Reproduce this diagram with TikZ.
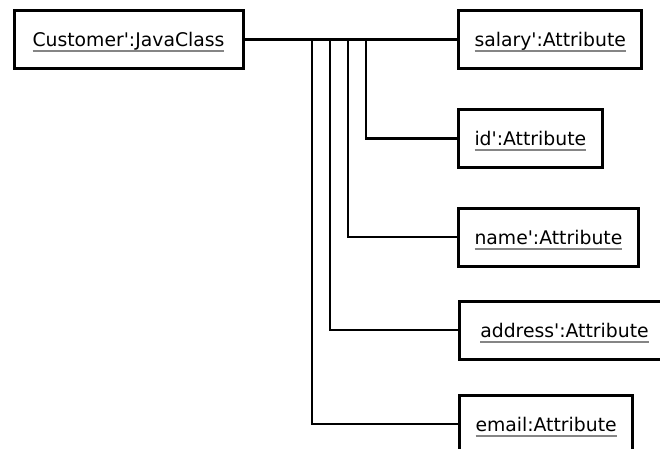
\documentclass[tikz,border=0pt]{standalone}
\usepackage{fontspec}
\setmainfont{DejaVu Sans}[Ligatures=TeXOff]
\usetikzlibrary{positioning}
\definecolor{ulgray}{HTML}{858585}
% underlined object name, UML instance style
\newcommand{\objname}[1]{\setbox0\hbox{#1}\rlap{\smash{\color{ulgray}\rule[-5.8pt]{\wd0}{2pt}}}\box0}
\tikzset{
  objbox/.style={draw, line width=3pt, rectangle, inner xsep=16pt, inner ysep=0pt,
    minimum height=58pt, text height=14pt, text depth=0pt,
    font=\fontsize{18.8pt}{21pt}\selectfont},
  link/.style={line width=2.8pt}
}
\begin{document}
\begin{tikzpicture}[x=1pt,y=-1pt]
  \useasboundingbox (0,0) rectangle (660,448);
  \fill[white] (0,0) rectangle (660,448);

  \node[objbox, minimum width=229pt] (customer) at (128.5,39.5) {\objname{Customer':JavaClass}};
  \node[objbox, anchor=west] (salary)  at (457,39.5) {\objname{salary':Attribute}};
  \node[objbox, anchor=west] (id)      at (457,138.5) {\objname{id':Attribute}};
  \node[objbox, anchor=west] (name)    at (457,237) {\objname{name':Attribute}};
  \node[objbox, anchor=west, minimum width=210pt] (address) at (458,330) {\objname{address':Attribute}};
  \node[objbox, anchor=west] (email)   at (458,424) {\objname{email:Attribute}};

  % branch points on the main line
  \coordinate (bId)      at (366,40.5);
  \coordinate (bName)    at (348,40.5);
  \coordinate (bAddress) at (330,40.5);
  \coordinate (bEmail)   at (312,40.5);

  \draw[link] (customer.east) -- (salary.west);
  \draw[link] (bId) |- (id.west);
  \draw[link] (bName) |- (name.west);
  \draw[link] (bAddress) |- (address.west);
  \draw[link] (bEmail) |- (email.west);
\end{tikzpicture}
\end{document}
